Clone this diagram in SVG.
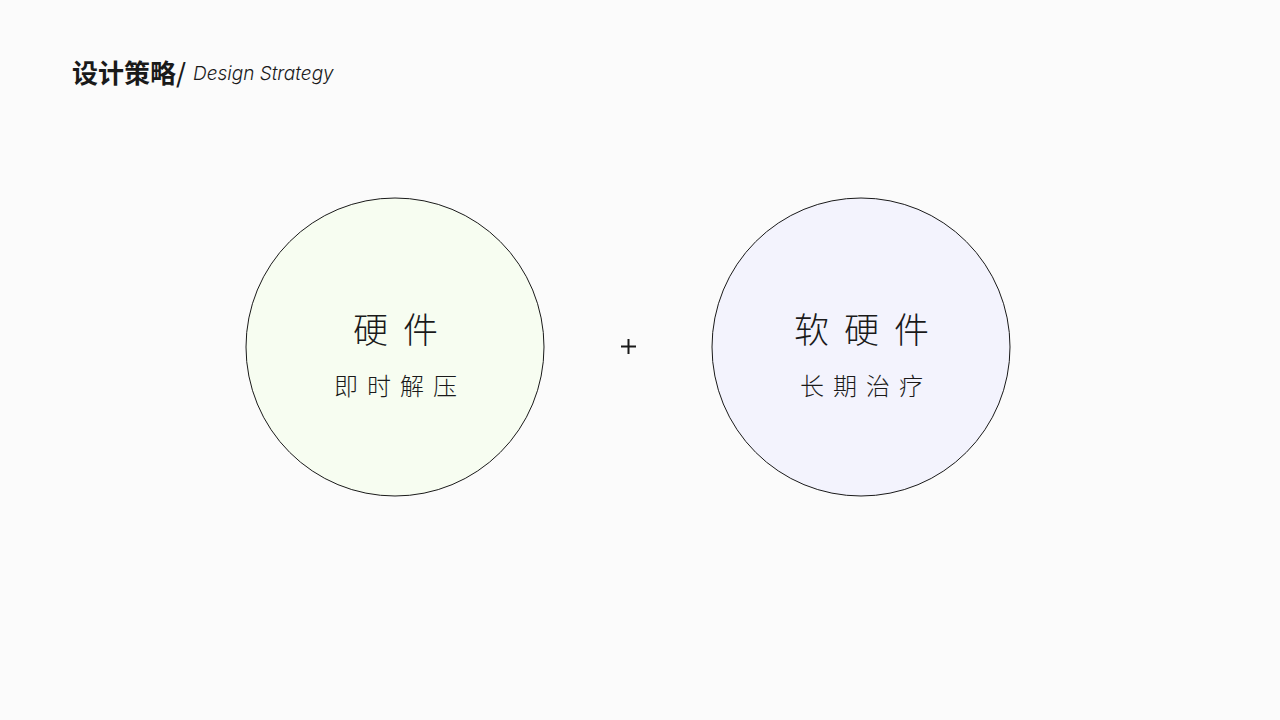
<svg xmlns="http://www.w3.org/2000/svg" width="1280" height="720" viewBox="0 0 1280 720">
<style>
.cjk{font-family:"Noto Sans CJK SC","Noto Sans",sans-serif;fill:#1a1a1a}
.big{font-size:35px;font-weight:300;text-anchor:middle;letter-spacing:15px}
.sub{font-size:24px;font-weight:300;text-anchor:middle;letter-spacing:9px}
.circ{stroke:#1a1a1a;stroke-width:1}
</style>
<rect width="1280" height="720" fill="#fbfbfb"/>
<g id="title">
<text x="72" y="83" class="cjk" font-size="26" font-weight="700">设计策略</text>
<text x="176" y="83" class="cjk" font-size="26" font-weight="500">/</text>
<text x="193" y="80" font-family="Inter,'Open Sans',sans-serif" font-size="19" font-style="italic" font-weight="300" fill="#1a1a1a">Design Strategy</text>
</g>
<g id="node-hardware">
<circle class="circ" cx="395" cy="347" r="149" fill="#f7fdf1"/>
<text x="403" y="343" class="cjk big">硬件</text>
<text x="400" y="395" class="cjk sub">即时解压</text>
</g>
<g id="connectors">
<path d="M621 346.5h15M628.5 339v15" stroke="#1a1a1a" stroke-width="2"/>
</g>
<g id="node-softhardware">
<circle class="circ" cx="861" cy="347" r="149" fill="#f3f3fd"/>
<text x="869" y="343" class="cjk big">软硬件</text>
<text x="866" y="395" class="cjk sub">长期治疗</text>
</g>
</svg>
